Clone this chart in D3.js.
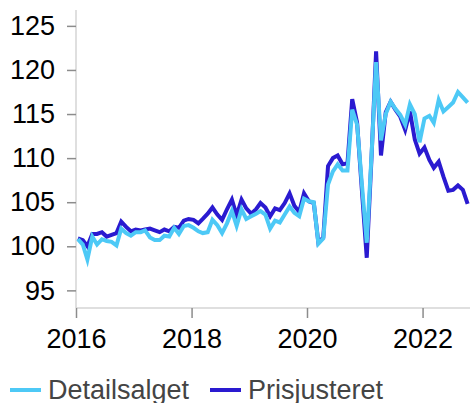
<!DOCTYPE html>
<html>
<head>
<meta charset="utf-8">
<script src="https://cdn.jsdelivr.net/npm/d3@7"></script>
<style>
  html, body { margin: 0; padding: 0; background: #fff; }
  svg { display: block; font-family: "Liberation Sans", Arial, sans-serif; }
</style>
</head>
<body>
<svg id="chart" width="470" height="403"></svg>
<script>
// --- DATA --------------------------------------------------------------------
// monthly index, Jan 2016 .. Oct 2022
const START = { year: 2016, month: 0 };

const detailsalget = [
  100.8, 100.2, 98.5, 101.1, 100.2, 100.8, 100.6, 100.5, 100.1, 102.0, 101.5, 101.2,
  101.6, 101.6, 101.8, 101.0, 100.7, 100.7, 101.2, 101.1, 102.1, 101.4, 102.3, 102.4,
  102.1, 101.7, 101.5, 101.6, 103.0, 102.4, 101.5, 102.6, 104.0, 102.3, 104.2, 103.1,
  103.4, 103.7, 104.0, 103.6, 102.0, 102.9, 102.7, 103.6, 104.5, 103.8, 103.4, 105.4,
  105.1, 105.0, 100.3, 100.9, 107.0, 108.5, 109.3, 108.6, 108.6, 115.5, 113.8, 107.1,
  100.4, 110.6, 120.9, 112.0, 115.0, 116.4, 115.6, 114.9, 113.8, 116.1, 115.0, 111.8,
  114.5, 114.8, 114.0, 116.6, 115.3, 115.8, 116.3, 117.5, 116.9, 116.3
];

const prisjusteret = [
  100.9, 100.7, 100.0, 101.4, 101.4, 101.6, 101.1, 101.3, 101.5, 102.8, 102.2, 101.7,
  101.9, 101.8, 101.9, 102.0, 101.8, 101.6, 101.9, 101.7, 102.2, 102.1, 102.9, 103.1,
  103.0, 102.6, 103.1, 103.7, 104.4, 103.6, 103.0, 104.2, 105.3, 103.5, 105.3, 104.3,
  103.7, 104.2, 104.9, 104.4, 103.4, 104.3, 104.1, 104.9, 106.0, 104.6, 103.9, 106.0,
  105.1, 104.9, 100.4, 101.0, 109.1, 110.0, 110.3, 109.3, 109.4, 116.7, 114.0, 106.4,
  98.7, 110.4, 122.1, 110.3, 115.2, 116.4, 115.5, 114.7, 113.2, 115.3, 112.1, 110.5,
  111.2, 109.8, 108.9, 109.6, 107.9, 106.3, 106.4, 106.9, 106.4, 104.8
];

const seriesNames = ['Detailsalget', 'Prisjusteret'];
const yTicks = [95, 100, 105, 110, 115, 120, 125];
const xTickYears = [2016, 2018, 2020, 2022];

// --- LAYOUT ------------------------------------------------------------------
const PLOT = { left: 76, right: 470, top: 10, bottom: 308 };
const FONT_SIZE = 27;
const LINE_W = 4;

const COL = {
  LIGHT: '#4dc9f6',
  DARK:  '#2a1ad0',
  AXIS:  '#d4d4d4',
  TICK:  '#8c8c8c',
  TEXT:  '#000000',
  LEGEND_TEXT: '#444444',
};

const svg = d3.select('#chart');

const dates = detailsalget.map((_, i) => new Date(START.year, START.month + i, 13));

const x = d3.scaleTime()
  .domain([new Date(2016, 0, 1), new Date(2022, 9, 28)])
  .range([PLOT.left, PLOT.right]);

const y = d3.scaleLinear()
  .domain([93, 126.8])
  .range([PLOT.bottom, PLOT.top]);

// ── Axes ──────────────────────────────────────────────────────────────────────
const yAxis = d3.axisLeft(y).tickValues(yTicks).tickSize(9).tickPadding(12);
const gy = svg.append('g').attr('transform', `translate(${PLOT.left},0)`).call(yAxis);

const xAxis = d3.axisBottom(x)
  .tickValues(xTickYears.map(yr => new Date(yr, 0, 1)))
  .tickFormat(d3.timeFormat('%Y'))
  .tickSize(10).tickPadding(11);
const gx = svg.append('g').attr('transform', `translate(0,${PLOT.bottom})`).call(xAxis);

[gx, gy].forEach(g => {
  g.select('.domain').attr('stroke', COL.AXIS).attr('stroke-width', 1.5);
  g.selectAll('.tick line').attr('stroke', COL.TICK).attr('stroke-width', 1.5);
  g.selectAll('.tick text')
    .attr('fill', COL.TEXT)
    .attr('font-size', FONT_SIZE)
    .attr('font-family', '"Liberation Sans", Arial, sans-serif');
});
// plain domain lines, no outer tick caps
gy.select('.domain').attr('d', `M0,${PLOT.top}V${PLOT.bottom}`);
gx.select('.domain').attr('d', `M${PLOT.left},0H${PLOT.right}`);

// ── Lines ─────────────────────────────────────────────────────────────────────
const line = d3.line()
  .x((d, i) => x(dates[i]))
  .y(d => y(d));

const plotG = svg.append('g');
plotG.append('path')
  .datum(prisjusteret)
  .attr('fill', 'none')
  .attr('stroke', COL.DARK)
  .attr('stroke-width', LINE_W)
  .attr('d', line);

plotG.append('path')
  .datum(detailsalget)
  .attr('fill', 'none')
  .attr('stroke', COL.LIGHT)
  .attr('stroke-width', LINE_W)
  .attr('d', line);

// ── Legend ────────────────────────────────────────────────────────────────────
const legend = [
  { name: seriesNames[0], color: COL.LIGHT, x: 10 },
  { name: seriesNames[1], color: COL.DARK,  x: 210 },
];
const lg = svg.append('g').selectAll('g').data(legend).join('g')
  .attr('transform', d => `translate(${d.x},390)`);
lg.append('line')
  .attr('x1', 0).attr('x2', 31).attr('y1', 0).attr('y2', 0)
  .attr('stroke', d => d.color).attr('stroke-width', 4);
lg.append('text')
  .attr('x', 38).attr('y', 9)
  .attr('font-size', FONT_SIZE)
  .attr('fill', COL.LEGEND_TEXT)
  .text(d => d.name);
</script>
</body>
</html>
